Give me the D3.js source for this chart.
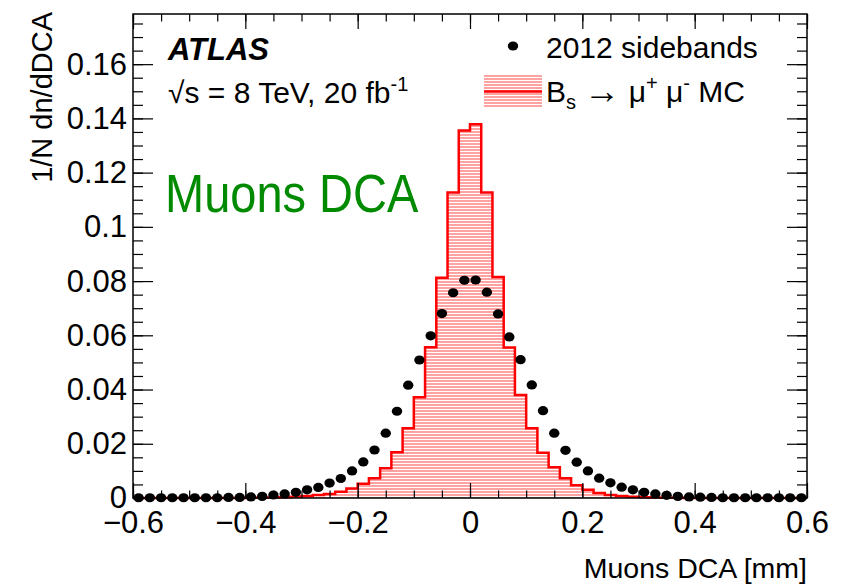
<!DOCTYPE html>
<html lang="en">
<head>
<meta charset="UTF-8">
<title>Muons DCA</title>
<style>
  * { margin: 0; padding: 0; }
  html, body { overflow: hidden; background: #fff; }
  text { font-family: "Liberation Sans", Arial, Helvetica, sans-serif; }
</style>
</head>
<body>
<div id="chart"></div>
<script src="https://cdn.jsdelivr.net/npm/d3@7"></script>
<script>
// histogram binning: 60 bins of 0.02 mm from -0.6 to 0.6
const binWidth = 0.02
const xStart = -0.6

// B_s -> mu mu MC, normalised (one value per bin)
const mcValues = [
  0, 0, 0, 0, 0, 0, 0, 0, 0, 0,
  0.0001, 0.0001, 0.0002, 0.0003, 0.0005, 0.0007, 0.0011, 0.0015, 0.0023, 0.0035,
  0.0053, 0.0073, 0.0110, 0.0169, 0.0257, 0.0372, 0.0556, 0.0812, 0.1127, 0.1355,
  0.1378, 0.1127, 0.0815, 0.0555, 0.0380, 0.0257, 0.0167, 0.0113, 0.0073, 0.0047,
  0.0030, 0.0018, 0.0011, 0.0007, 0.0005, 0.0003, 0.0002, 0.0001, 0.0001, 0,
  0, 0, 0, 0, 0, 0, 0, 0, 0, 0
]

// 2012 sidebands data (one value per bin, drawn at bin centre)
const dataValues = [
  0.0001, 0.0001, 0.0001, 0.0001, 0.0001, 0.0001, 0.0001, 0.0001, 0.0002, 0.0002,
  0.0004, 0.0006, 0.0011, 0.0015, 0.0021, 0.0030, 0.0039, 0.0055, 0.0072, 0.0100,
  0.0133, 0.0177, 0.0239, 0.0320, 0.0416, 0.0509, 0.0598, 0.0680, 0.0757, 0.0803,
  0.0804, 0.0759, 0.0679, 0.0594, 0.0510, 0.0417, 0.0322, 0.0239, 0.0176, 0.0132,
  0.0100, 0.0073, 0.0056, 0.0040, 0.0030, 0.0021, 0.0015, 0.0010, 0.0006, 0.0004,
  0.0003, 0.0002, 0.0001, 0.0001, 0.0001, 0.0001, 0.0001, 0.0001, 0.0001, 0.0001
]

const xTicks = [-0.6, -0.4, -0.2, 0, 0.2, 0.4, 0.6]
const xTickLabels = ['−0.6', '−0.4', '−0.2', '0', '0.2', '0.4', '0.6']
const xMinorTicks = d3.range(-0.6, 0.6001, 0.05)
const yTicks = [0, 0.02, 0.04, 0.06, 0.08, 0.1, 0.12, 0.14, 0.16]
const yTickLabels = ['0', '0.02', '0.04', '0.06', '0.08', '0.1', '0.12', '0.14', '0.16']
const yMinorTicks = d3.range(0, 0.1776, 0.005)

function drawChart() {
  const width = 844
  const height = 585
  const margin = { top: 14, right: 37, bottom: 87, left: 133 }
  const innerW = width - margin.left - margin.right
  const innerH = height - margin.top - margin.bottom

  const svg = d3.select('#chart')
    .append('svg')
    .attr('width', width)
    .attr('height', height)

  const x = d3.scaleLinear().domain([-0.6, 0.6]).range([0, innerW])
  const y = d3.scaleLinear().domain([0, 0.1785]).range([innerH, 0])

  // hatch pattern for MC fill
  const defs = svg.append('defs')
  const pat = defs.append('pattern')
    .attr('id', 'hatch')
    .attr('patternUnits', 'userSpaceOnUse')
    .attr('width', 6)
    .attr('height', 3)
  pat.append('rect').attr('width', 6).attr('height', 3).attr('fill', '#fff')
  pat.append('line')
    .attr('x1', 0).attr('x2', 6).attr('y1', 1).attr('y2', 1)
    .attr('stroke', '#ff4545').attr('stroke-width', 1)

  const g = svg.append('g')
    .attr('transform', `translate(${margin.left},${margin.top})`)

  // MC histogram
  const steps = mcValues.map((v, i) => [xStart + i * binWidth, v])
  steps.push([xStart + mcValues.length * binWidth, mcValues[mcValues.length - 1]])

  g.append('path')
    .datum(steps)
    .attr('fill', 'url(#hatch)')
    .attr('d', d3.area().curve(d3.curveStepAfter)
      .x(d => x(d[0])).y0(y(0)).y1(d => y(d[1])))

  g.append('path')
    .datum(steps)
    .attr('fill', 'none')
    .attr('stroke', '#ff0000')
    .attr('stroke-width', 2.5)
    .attr('d', d3.line().curve(d3.curveStepAfter)
      .x(d => x(d[0])).y(d => y(d[1])))

  // data points
  g.selectAll('ellipse.pt')
    .data(dataValues)
    .join('ellipse')
    .attr('class', 'pt')
    .attr('cx', (d, i) => x(xStart + (i + 0.5) * binWidth))
    .attr('cy', d => y(d))
    .attr('rx', 5.2)
    .attr('ry', 4.6)
    .attr('fill', '#000')

  // axes (ROOT style, ticks inward on all four sides)
  const tickFont = 31
  const axB = g.append('g').attr('transform', `translate(0,${innerH})`)
    .call(d3.axisBottom(x).tickValues(xTicks).tickFormat((d, i) => xTickLabels[i])
      .tickSizeInner(-15).tickSizeOuter(0).tickPadding(9))
  axB.append('g').call(d3.axisBottom(x).tickValues(xMinorTicks).tickSizeInner(-7.5).tickSizeOuter(0).tickFormat(''))
  axB.selectAll('text').attr('font-size', tickFont).attr('fill', '#000').attr('dy', '0.85em')

  const axT = g.append('g')
    .call(d3.axisTop(x).tickValues(xTicks).tickSizeInner(-15).tickSizeOuter(0).tickFormat(''))
  axT.append('g').call(d3.axisTop(x).tickValues(xMinorTicks).tickSizeInner(-7.5).tickSizeOuter(0).tickFormat(''))

  const axL = g.append('g')
    .call(d3.axisLeft(y).tickValues(yTicks).tickFormat((d, i) => yTickLabels[i])
      .tickSizeInner(-20).tickSizeOuter(0).tickPadding(6))
  axL.append('g').call(d3.axisLeft(y).tickValues(yMinorTicks).tickSizeInner(-10).tickSizeOuter(0).tickFormat(''))
  axL.selectAll('text').attr('font-size', tickFont).attr('fill', '#000')

  const axR = g.append('g').attr('transform', `translate(${innerW},0)`)
    .call(d3.axisRight(y).tickValues(yTicks).tickSizeInner(-20).tickSizeOuter(0).tickFormat(''))
  axR.append('g').call(d3.axisRight(y).tickValues(yMinorTicks).tickSizeInner(-10).tickSizeOuter(0).tickFormat(''))

  g.selectAll('.domain').remove()
  g.selectAll('.tick line').attr('stroke', '#000').attr('stroke-width', 1.2)

  // frame
  g.append('rect')
    .attr('width', innerW).attr('height', innerH)
    .attr('fill', 'none').attr('stroke', '#000').attr('stroke-width', 1.5)

  // axis titles
  svg.append('text')
    .attr('x', margin.left + innerW).attr('y', 578)
    .attr('text-anchor', 'end').attr('font-size', 28.5)
    .text('Muons DCA [mm]')

  svg.append('text')
    .attr('transform', `translate(52,${margin.top - 2}) rotate(-90)`)
    .attr('text-anchor', 'end').attr('font-size', 29)
    .text('1/N dn/dDCA')

  // labels
  svg.append('text')
    .attr('x', 168).attr('y', 60)
    .attr('font-size', 31).attr('font-weight', 'bold').attr('font-style', 'italic')
    .text('ATLAS')

  const energy = svg.append('text')
    .attr('x', 168).attr('y', 103).attr('font-size', 30)
  energy.append('tspan').text('√s = 8 TeV, 20 fb')
  energy.append('tspan').attr('dy', -12).attr('font-size', 20).text('-1')

  svg.append('text')
    .attr('transform', 'translate(165,212) scale(0.87,1)')
    .attr('font-size', 54).attr('fill', '#008a00')
    .text('Muons DCA')

  // legend
  svg.append('ellipse').attr('cx', 513).attr('cy', 46).attr('rx', 5.2).attr('ry', 4.6).attr('fill', '#000')
  svg.append('text').attr('x', 546).attr('y', 58).attr('font-size', 30).text('2012 sidebands')

  svg.append('rect').attr('x', 484).attr('y', 75).attr('width', 58).attr('height', 33)
    .attr('fill', 'url(#hatch)')
  svg.append('line').attr('x1', 484).attr('x2', 542).attr('y1', 91.5).attr('y2', 91.5)
    .attr('stroke', '#ff0000').attr('stroke-width', 2.5)

  const mcLabel = svg.append('text').attr('x', 546).attr('y', 102).attr('font-size', 30)
  mcLabel.append('tspan').text('B')
  mcLabel.append('tspan').attr('dy', 7).attr('font-size', 20).text('s')
  mcLabel.append('tspan').attr('dy', -7).text(' ')
  mcLabel.append('tspan').attr('font-size', 36).attr('dy', 1).text('→')
  mcLabel.append('tspan').attr('dy', -1).text(' μ')
  mcLabel.append('tspan').attr('dy', -12).attr('font-size', 20).text('+')
  mcLabel.append('tspan').attr('dy', 12).text(' μ')
  mcLabel.append('tspan').attr('dy', -12).attr('font-size', 20).text('-')
  mcLabel.append('tspan').attr('dy', 12).text(' MC')
}

drawChart()
</script>
</body>
</html>
